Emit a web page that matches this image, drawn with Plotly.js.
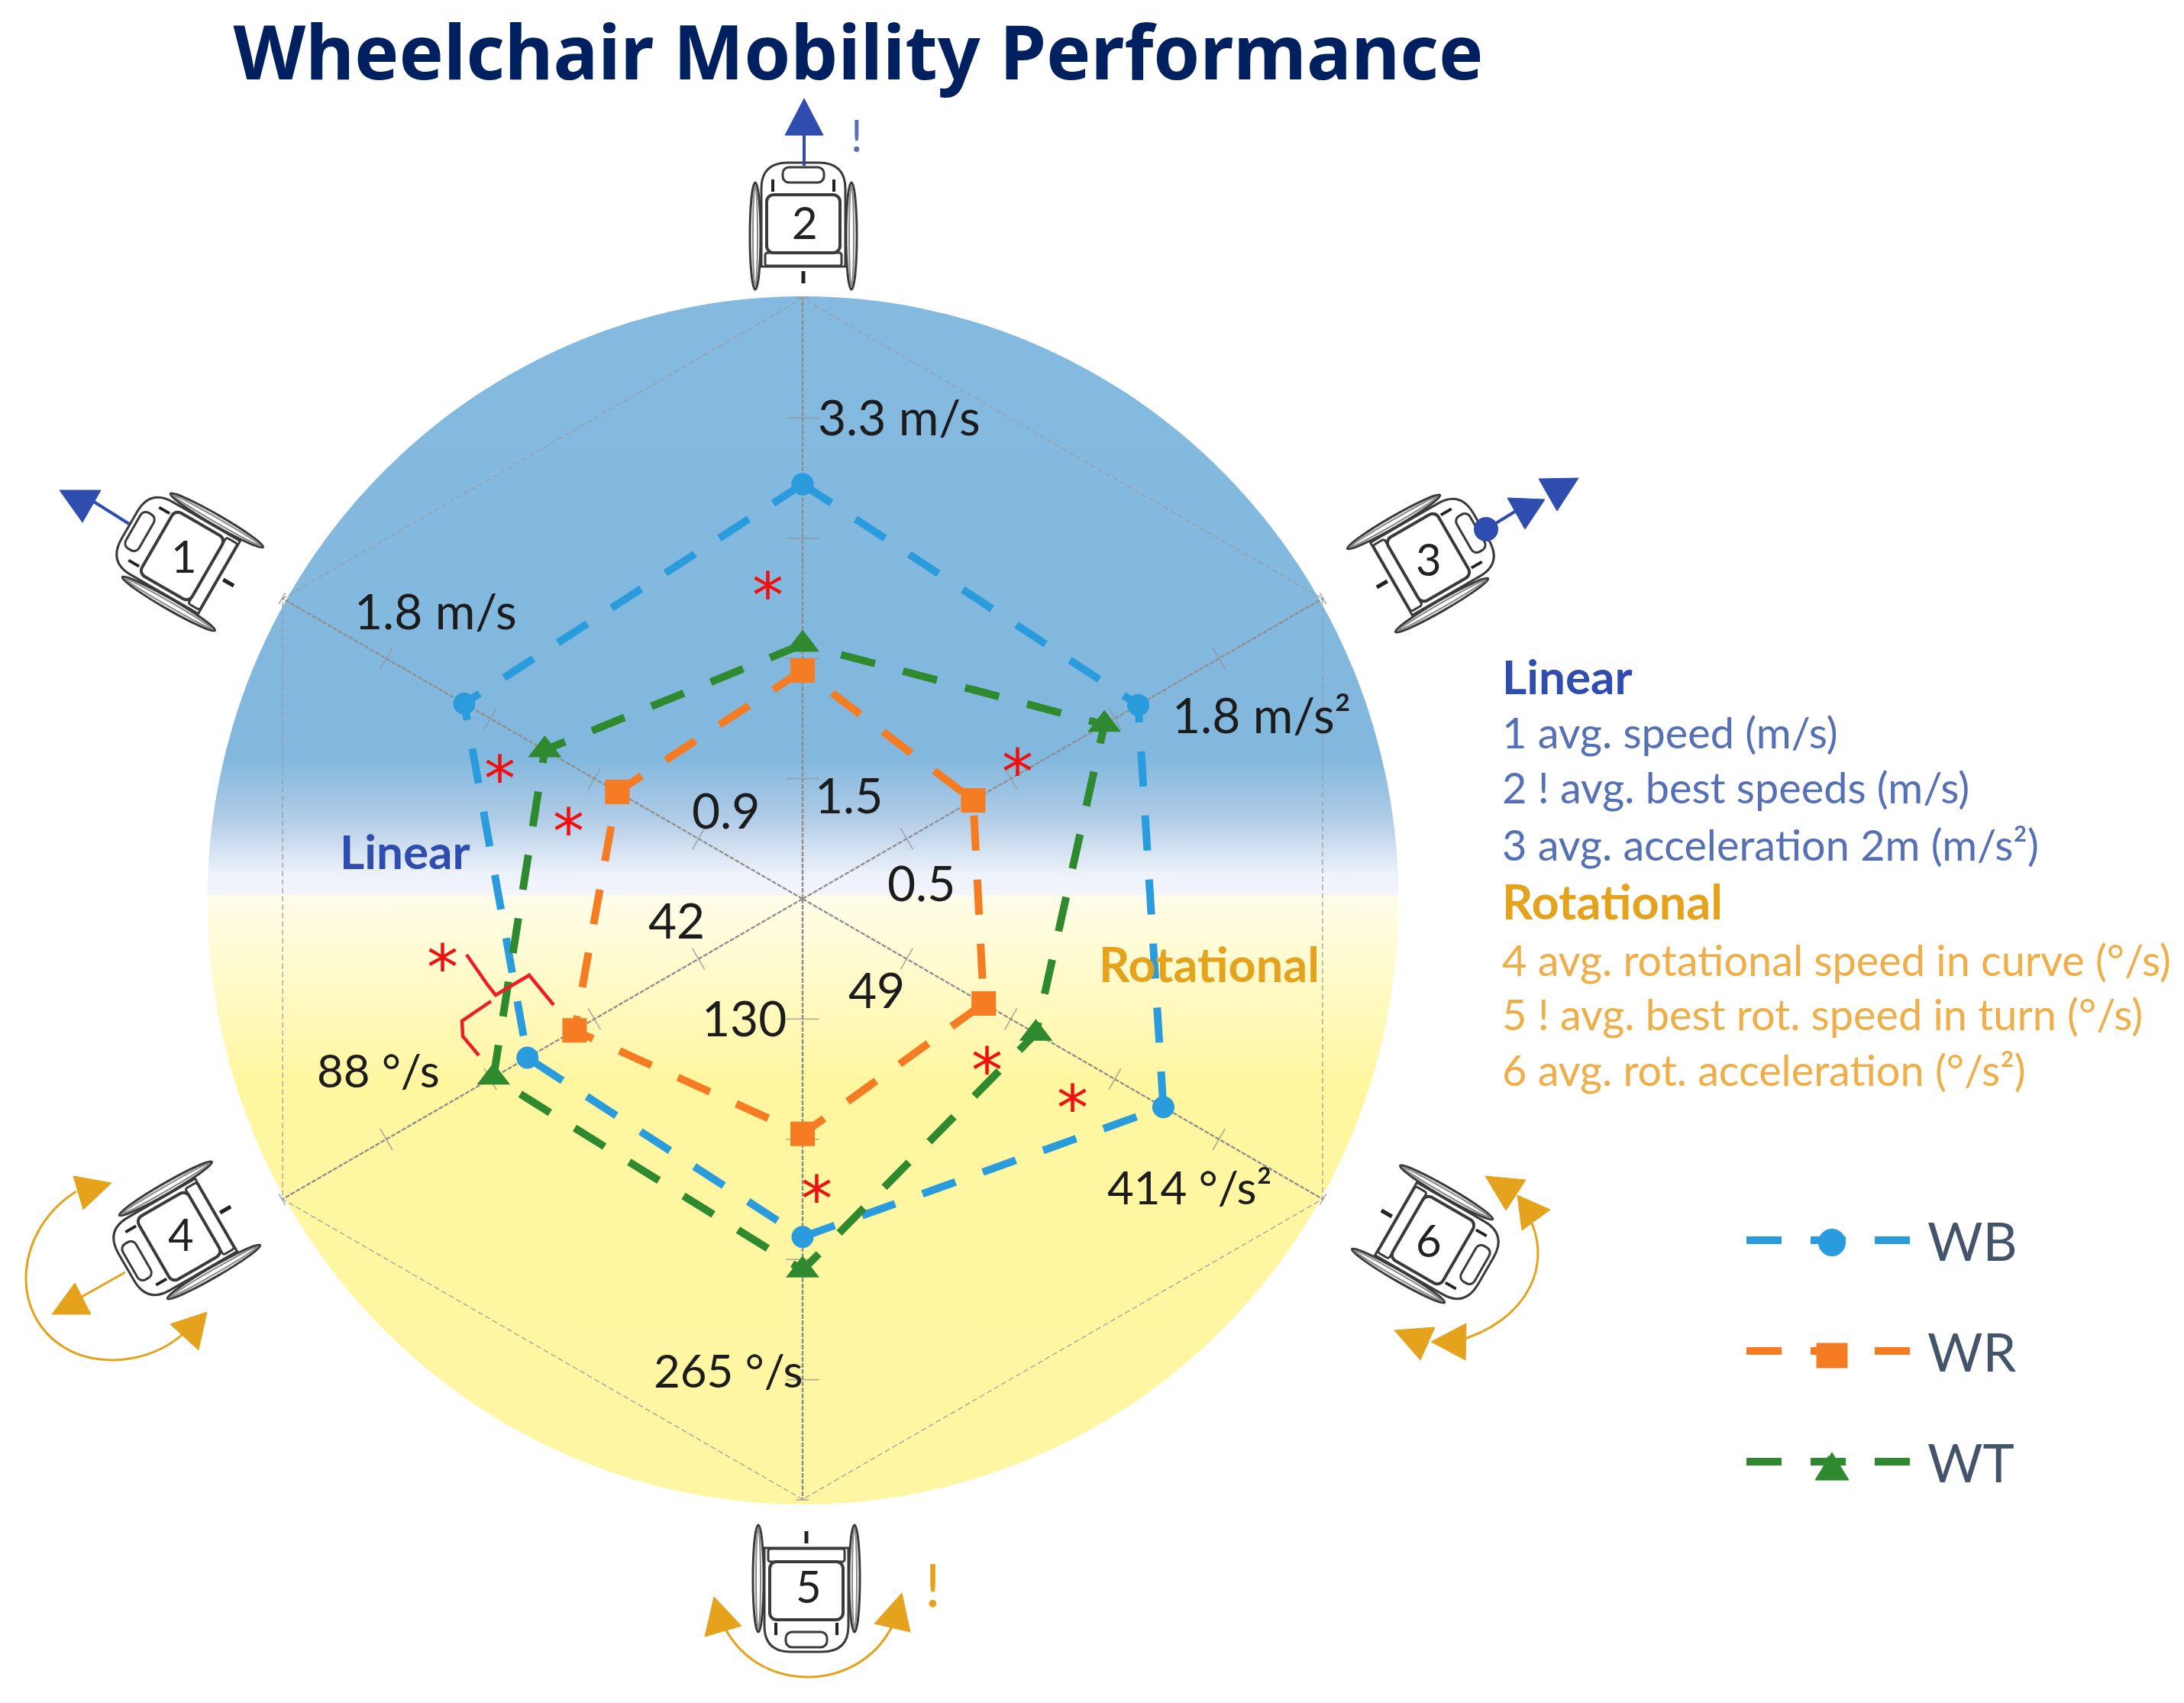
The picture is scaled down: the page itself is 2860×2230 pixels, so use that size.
<!DOCTYPE html>
<html><head><meta charset="utf-8">
<script src="https://cdn.plot.ly/plotly-3.0.0.min.js"></script>
<style>html,body{margin:0;padding:0;background:#fff}#c{width:2860px;height:2230px}</style></head>
<body><div id="c"></div>
<script>
// ---------- data ----------
const axisNames = ['2','1','4','5','6','3'];      // counter-clockwise from the top
const axisValueInner = [1.5, 0.9, 42, 130, 49, 0.5];     // labelled value at the inner labelled tick
const axisValueOuter = [3.3, 1.8, 88, 265, 414, 1.8];    // labelled value at the outer labelled tick
const wbValues = [2.97, 1.575, 67.2, 211.6, 349, 1.464];
const wrValues = [2.04, 1.134, 60.25, 173, 139, 0.777];
const wtValues = [2.17, 1.343, 72.2, 224, 200, 1.323];
const tickFractions = [0.2, 0.4, 0.6, 0.8];

const W = 2860, H = 2230;
const fx = x => x / W, fy = y => 1 - y / H;
const P = (x, y) => fx(x) + ' ' + fy(y);
const toR = (v, i) => 0.2 + 0.6 * (v - axisValueInner[i]) / (axisValueOuter[i] - axisValueInner[i]);
const closed = a => a.concat([a[0]]);

const BLUE = '#2E4DAE', ORANGE = '#E5A31D', BLUETXT = '#5570B5', ORANGETXT = '#EFAE47';
const cWB = '#2A9CDD', cWR = '#F57C22', cWT = '#2F8A2F';
const CX = 1051, CY = 1177, R = 787;

function series(name, vals, color, symbol, size) {
  return {
    type: 'scatterpolar', name: '\u00A0' + name, legendgroup: name, mode: 'lines+markers',
    r: closed(vals.map(toR)), theta: closed(axisNames), subplot: 'polar',
    line: {color, width: 10, dash: '46px,38px'},
    marker: {color, symbol, size}, cliponaxis: false, hoverinfo: 'name+theta'
  };
}
const frame = {
  type: 'scatterpolar', mode: 'lines', showlegend: false, hoverinfo: 'skip',
  r: closed(axisNames.map(() => 1)), theta: closed(axisNames),
  line: {color: '#9a9a9a', width: 2.5, dash: '7px,4px'}
};
const tickR = [], tickT = [], tickA = [], tickS = [];
axisNames.forEach((n, i) => tickFractions.concat([1]).forEach(f => {
  tickR.push(f); tickT.push(n); tickA.push(-60 * i);
  tickS.push(f === 1 ? 12 : (i % 3 === 0 ? 31 : 23));
}));
const ticks = {
  type: 'scatterpolar', mode: 'markers', showlegend: false, hoverinfo: 'skip',
  r: tickR, theta: tickT,
  marker: {symbol: 'line-ew-open', size: tickS, angle: tickA, color: '#949494', line: {color: '#949494', width: 1.8}}
};
const traces = [frame, ticks,
  series('WB', wbValues, cWB, 'circle', 29),
  series('WR', wrValues, cWR, 'square', 32),
  series('WT', wtValues, cWT, 'triangle-up', 38)];

// ---------- background disc ----------
const discSvg = `<svg xmlns="http://www.w3.org/2000/svg" width="${W}" height="${H}" viewBox="0 0 ${W} ${H}">
<defs><linearGradient id="g" gradientUnits="userSpaceOnUse" x1="0" y1="388" x2="0" y2="1970">
<stop offset="0" stop-color="#85BAE0"/><stop offset="0.382" stop-color="#82B8DE"/>
<stop offset="0.431" stop-color="#AFCBE6"/><stop offset="0.4785" stop-color="#EEF2FA"/>
<stop offset="0.4955" stop-color="#F2F5FC"/><stop offset="0.4957" stop-color="#FFFDEA"/>
<stop offset="0.65" stop-color="#FFF6A0"/><stop offset="1" stop-color="#FFF6A4"/>
</linearGradient></defs><ellipse cx="1051.5" cy="1179" rx="780" ry="791" fill="url(#g)"/></svg>`;
const uri = s => 'data:image/svg+xml;charset=utf-8,' + encodeURIComponent(s);

// ---------- wheelchair icon ----------
function chair(rot) {
  const s = `<svg xmlns="http://www.w3.org/2000/svg" width="240" height="240" viewBox="-120 -120 240 240">
<g transform="rotate(${rot})" fill="none" stroke="#3a3a3a" stroke-width="3">
<ellipse cx="-63" cy="12" rx="7" ry="70"/><ellipse cx="63" cy="12" rx="7" ry="70"/>
<ellipse cx="-63" cy="12" rx="3" ry="66" stroke="#888" stroke-width="2"/><ellipse cx="63" cy="12" rx="3" ry="66" stroke="#888" stroke-width="2"/>
<path d="M-55 52 V-50 Q-55 -84 -20 -84 H20 Q55 -84 55 -50 V52 Z" fill="#fff"/>
<rect x="-27" y="-78" width="54" height="20" rx="8"/>
<rect x="-48" y="-42" width="96" height="76" rx="9" stroke-width="4"/>
<rect x="-50" y="34" width="100" height="17" rx="3"/>
<path d="M0 58 V74" stroke="#222" stroke-width="5"/>
<path d="M-40 -62 V-46 M40 -62 V-46" stroke="#222" stroke-width="4"/>
</g></svg>`;
  return uri(s);
}
const chairPos = [[242,730,-60],[1052,297,0],[1867,732,60],[238,1617,-120],[1056,2079,180],[1873,1622,120]];
const images = [{source: uri(discSvg), xref:'paper', yref:'paper', x:0, y:1, sizex:1, sizey:1,
  xanchor:'left', yanchor:'top', sizing:'stretch', layer:'below'}];
chairPos.forEach(([x,y,r]) => images.push({source: chair(r), xref:'paper', yref:'paper',
  x:fx(x), y:fy(y), sizex:240/W, sizey:240/H, xanchor:'center', yanchor:'middle', sizing:'stretch', layer:'below'}));

// ---------- decoration shapes ----------
const shapes = [];
const poly = (pts, color) => shapes.push({type:'path', xref:'paper', yref:'paper', fillcolor:color,
  line:{color:color, width:1}, path:'M' + pts.map(p => P(p[0],p[1])).join(' L') + ' Z'});
const stroke = (d, color, width) => shapes.push({type:'path', xref:'paper', yref:'paper',
  line:{color, width}, path:d});
const seg = (a, b, color, width) => stroke('M' + P(a[0],a[1]) + ' L' + P(b[0],b[1]), color, width);
const dot = (x, y, r, color) => shapes.push({type:'circle', xref:'paper', yref:'paper', fillcolor:color,
  line:{color:color, width:0}, x0:fx(x-r), x1:fx(x+r), y0:fy(y+r), y1:fy(y-r)});

// linear arrows
seg([1053,176],[1053,217],BLUE,4); poly([[1053,129],[1028,177],[1078,177]],BLUE);
seg([169,686],[115,652],BLUE,4); poly([[78,642],[132,642],[108,684]],BLUE);
seg([1946,693],[2000,660],BLUE,4); dot(1946,693,16,BLUE);
poly([[1974,652],[2023,654],[1997,693]],BLUE); poly([[2015,627],[2067,626],[2039,669]],BLUE);
// chair 4
seg([164,1666],[100,1702],ORANGE,3); poly([[98,1680],[68,1721],[119,1721]],ORANGE);
stroke(`M${P(100,1560)} C${P(20,1610)} ${P(10,1720)} ${P(85,1765)} C${P(130,1792)} ${P(200,1785)} ${P(245,1742)}`,ORANGE,3);
poly([[96,1540],[146,1549],[109,1584]],ORANGE); poly([[271,1718],[223,1734],[260,1768]],ORANGE);
// chair 5
stroke(`M${P(948,2130)} C${P(975,2180)} ${P(1020,2196)} ${P(1058,2196)} C${P(1100,2196)} ${P(1145,2175)} ${P(1168,2130)}`,ORANGE,3);
poly([[935,2091],[923,2143],[971,2129]],ORANGE); poly([[1181,2086],[1145,2126],[1192,2137]],ORANGE);
// chair 6
stroke(`M${P(2000,1590)} C${P(2035,1650)} ${P(2005,1730)} ${P(1905,1757)}`,ORANGE,3);
poly([[1945,1540],[1998,1545],[1972,1585]],ORANGE); poly([[2030,1584],[1987,1565],[1993,1611]],ORANGE);
poly([[1826,1742],[1879,1738],[1860,1781]],ORANGE); poly([[1920,1733],[1874,1757],[1919,1781]],ORANGE);
// red hand-drawn bracket
stroke(`M${P(611,1250)} L${P(638,1289)} L${P(649,1303)} L${P(693,1277)} L${P(725,1316)}`,'#EE1C25',4.5);
stroke(`M${P(643,1311)} L${P(605,1337)} L${P(606,1357)} L${P(627,1382)}`,'#EE1C25',4.5);
// enlarged legend keys, sitting under the legend's own capped-size symbols
const KX = 2399;
dot(KX,1627,18,cWB);
poly([[KX-20,1775-16],[KX+20,1775-16],[KX+20,1775+16],[KX-20,1775+16]],cWR);
poly([[KX,1923-21],[KX+22,1923+15],[KX-22,1923+15]],cWT);

// ---------- text ----------
const FONT = 'Lato, Carlito, sans-serif';
const ann = [];
const t = (text, x, y, size, color, anchor, bold, fam) => ann.push({
  text: bold ? '<b>' + text + '</b>' : text, x: fx(x), y: fy(y), xref:'paper', yref:'paper',
  showarrow:false, xanchor: anchor || 'center', yanchor:'middle',
  font:{family: fam || FONT, size, color}});
const INK = '#1c1c1c';
t('3.3 m/s',1177,546,64,INK); t('1.8 m/s',570,800,64,INK); t('1.8 m/s²',1652,935,64,INK);
t('1.5',1111,1040,64,INK); t('0.9',950,1060,64,INK); t('0.5',1206,1155,64,INK);
t('42',886,1204,64,INK); t('49',1148,1296,64,INK); t('130',975,1332,64,INK);
t('88 °/s',496,1401,60,INK); t('265 °/s',953,1794,60,INK); t('414 °/s²',1558,1554,60,INK);
t('Linear',530,1114,62,BLUE,'center',true); t('Rotational',1583,1262,63,ORANGE,'center',true);
const LX = 1965;
t('Linear',LX,885,62,BLUE,'left',true);
t('1 avg. speed (m/s)',LX,958,55.8,BLUETXT,'left');
t('2 ! avg. best speeds (m/s)',LX,1030,55.8,BLUETXT,'left');
t('3 avg. acceleration 2m (m/s²)',LX,1105,55.8,BLUETXT,'left');
t('Rotational',LX,1179,63,ORANGE,'left',true);
t('4 avg. rotational speed in curve (°/s)',LX,1256,55.8,ORANGETXT,'left');
t('5 ! avg. best rot. speed in turn (°/s)',LX,1327,55.8,ORANGETXT,'left');
t('6 avg. rot. acceleration (°/s²)',LX,1400,55.8,ORANGETXT,'left');
t('!',1122,177,58,BLUETXT); t('!',1221,2074,78,ORANGE);
// wheelchair numbers
[['1',241,728],['2',1054,291],['3',1871,731],['4',237,1615],['5',1059,2076],['6',1871,1624]]
  .forEach(([s,x,y]) => t(s,x,y,58,'#222'));
// significance asterisks
[[1005,773],[654,1013],[745,1082],[1332,1004],[579,1260],[1292,1395],[1404,1444],[1069,1563]]
  .forEach(([x,y]) => t('*',x,y+7.5,82,'#F01010','center',false,'DejaVu Sans'));

const layout = {
  width:W, height:H, margin:{l:0,r:0,t:0,b:0}, paper_bgcolor:'#fff', plot_bgcolor:'rgba(0,0,0,0)',
  title:{text:'<b>Wheelchair Mobility Performance</b>', x:1124/W, xanchor:'center', xref:'paper',
    y:fy(70), yanchor:'middle', yref:'paper', font:{family:'Noto Sans, Open Sans', size:98, color:'#002060'}},
  polar:{
    domain:{x:[(CX-R)/W,(CX+R)/W], y:[1-(CY+R)/H,1-(CY-R)/H]},
    bgcolor:'rgba(0,0,0,0)', gridshape:'linear',
    radialaxis:{range:[0,1], showgrid:false, showline:false, showticklabels:false, ticks:''},
    angularaxis:{type:'category', categoryorder:'array', categoryarray:axisNames, rotation:90,
      direction:'counterclockwise', showline:false, showticklabels:false, ticks:'',
      showgrid:true, gridcolor:'#8f8f8f', gridwidth:2.5, griddash:'6px,2px'}
  },
  showlegend:true,
  legend:{x:fx(2282), xanchor:'left', y:fy(1572), yanchor:'top', bgcolor:'rgba(0,0,0,0)',
    itemwidth:215, itemclick:false, itemdoubleclick:false, tracegroupgap:51,
    font:{family:FONT, size:70, color:'#44546A'}},
  images, shapes, annotations:ann
};
Plotly.newPlot('c', traces, layout, {staticPlot:true, displayModeBar:false});
</script></body></html>
